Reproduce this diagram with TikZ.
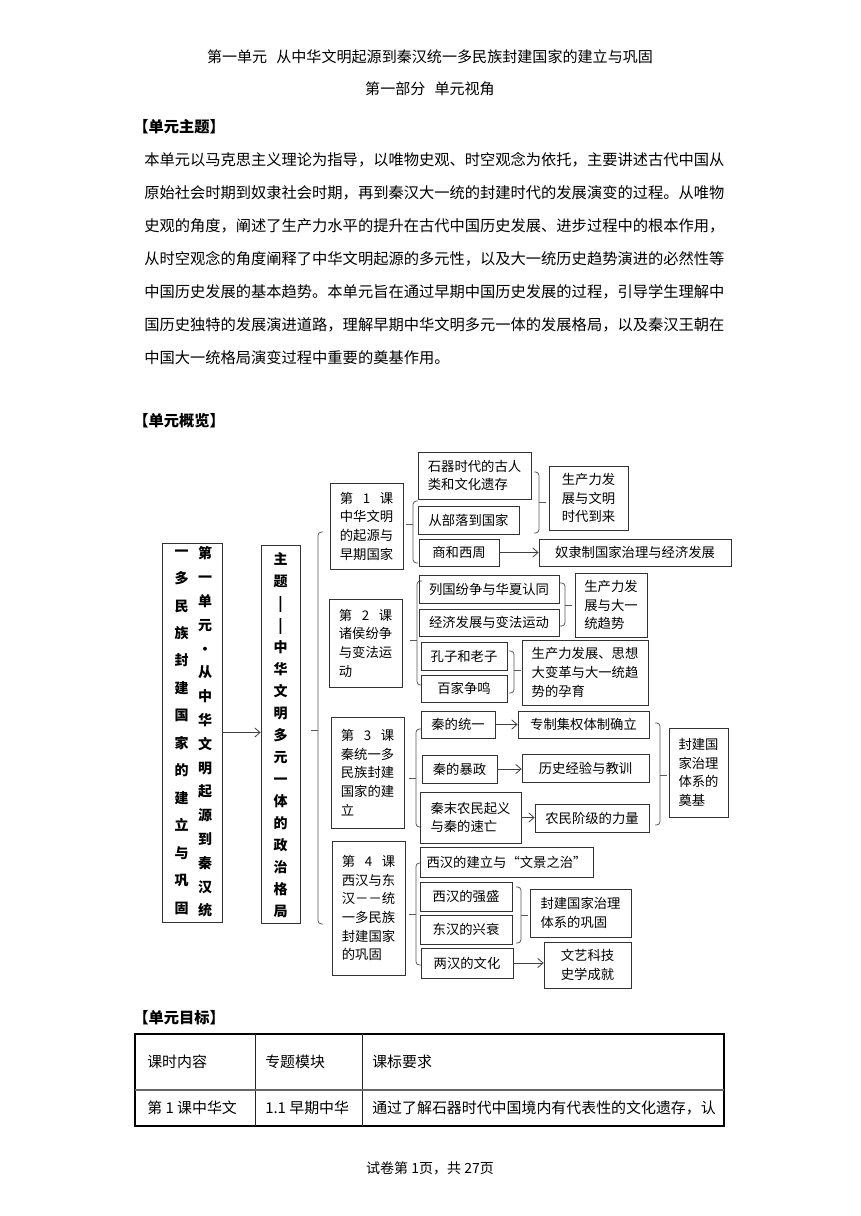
\documentclass[tikz,border=0pt]{standalone}
\usepackage{fontspec}
\setmainfont{Noto Sans CJK SC}
\usetikzlibrary{arrows.meta,fit}
\newcommand\brL[4]{\draw[brk] (#1+5,#2) -- (#1,#2) -- (#1,#3) -- (#1+5,#3); \draw[brk] (#1,#4) -- (#1-7,#4);}
\newcommand\brR[4]{\draw[brk] (#1-5,#2) -- (#1,#2) -- (#1,#3) -- (#1-5,#3); \draw[brk] (#1,#4) -- (#1+7,#4);}
\newcommand\kc[1]{\makebox[4em]{第\hfill #1\hfill 课}}
% box with separate label: name, x1,y1,x2,y2, text
\newcommand\bx[6]{\node[box, fit={(#2,#3)(#4,#5)}] (#1) {}; \node[lbl] (#1-t) at (#1.center) {#6};}
\begin{document}
\begin{tikzpicture}[x=0.75pt,y=-0.75pt,
  box/.style={draw=black!80, line width=0.6pt, inner sep=0pt},
  lbl/.style={inner sep=0pt, align=left, font=\fontsize{10}{14}\selectfont},
  brk/.style={draw=black!65, line width=0.6pt, rounded corners=2.5pt},
  arr/.style={draw=black!75, line width=0.6pt, -{Straight Barb[length=4pt,width=7pt]}},
  body/.style={inner sep=0pt, anchor=west, font=\fontsize{11.45}{14}\selectfont},
  head/.style={inner sep=0pt, anchor=west, font=\bfseries\fontsize{11.45}{14}\selectfont},
  cell/.style={inner sep=0pt, anchor=west, font=\fontsize{11.2}{14}\selectfont},
  vcol/.style={inner sep=0pt, align=center, font=\bfseries\fontsize{10.5}{#1}\selectfont}
]
\fill[white] (0,0) rectangle (860,1216);

% ---------- header text ----------
\node[inner sep=0pt, font=\fontsize{11.3}{14}\selectfont] (title) at (430,57) {第一单元\hspace{0.6em}从中华文明起源到秦汉统一多民族封建国家的建立与巩固};
\node[inner sep=0pt, font=\fontsize{11.3}{14}\selectfont] (sub) at (430,89) {第一部分\hspace{0.6em}单元视角};
\node[head] (h1) at (133,127) {【单元主题】};
\node[body] (p1) at (144,160) {本单元以马克思主义理论为指导，以唯物史观、时空观念为依托，主要讲述古代中国从};
\node[body] (p2) at (144,193) {原始社会时期到奴隶社会时期，再到秦汉大一统的封建时代的发展演变的过程。从唯物};
\node[body] (p3) at (144,226) {史观的角度，阐述了生产力水平的提升在古代中国历史发展、进步过程中的根本作用，};
\node[body] (p4) at (144,259) {从时空观念的角度阐释了中华文明起源的多元性，以及大一统历史趋势演进的必然性等};
\node[body] (p5) at (144,292) {中国历史发展的基本趋势。本单元旨在通过早期中国历史发展的过程，引导学生理解中};
\node[body] (p6) at (144,325) {国历史独特的发展演进道路，理解早期中华文明多元一体的发展格局，以及秦汉王朝在};
\node[body] (p7) at (144,358) {中国大一统格局演变过程中重要的奠基作用。};
\node[head] (h2) at (133,421) {【单元概览】};

% ---------- diagram: left columns ----------
\node[box, fit={(162,543)(222,922)}] (B1) {};
\node[vcol=20.6] (B1a) at (181.7,732) {一\\多\\民\\族\\封\\建\\国\\家\\的\\建\\立\\与\\巩\\固};
\node[vcol=17.85] (B1b) at (205,732) {第\\一\\单\\元\\·\\从\\中\\华\\文\\明\\起\\源\\到\\秦\\汉\\统};
\node[box, fit={(261,545)(300,923)}] (B2) {};
\node[vcol=16.5] (B2a) at (280.5,735) {主\\题\\|\\|\\中\\华\\文\\明\\多\\元\\一\\体\\的\\政\\治\\格\\局};
\draw[arr] (B1.east) -- (B1.east -| B2.west);
\brL{318}{532}{924}{730}

% ---------- lessons ----------
\bx{L1}{330}{483}{403}{569}{\kc{1}\\中华文明\\的起源与\\早期国家}
\bx{L2}{329}{599}{402}{687}{\kc{2}\\诸侯纷争\\与变法运\\动\hspace{3em}}
\bx{L3}{331}{717}{404}{828}{\kc{3}\\秦统一多\\民族封建\\国家的建\\立\hspace{3em}}
\bx{L4}{332}{841}{405}{975}{\kc{4}\\西汉与东\\汉－－统\\一多民族\\封建国家\\的巩固\hspace{1em}}

% ---------- lesson 1 ----------
\brL{413}{501}{563}{524}
\bx{a1}{418}{452}{531}{499}{石器时代的古人\\类和文化遗存}
\bx{a2}{418}{506}{519}{534}{从部落到国家}
\bx{a3}{419}{539}{499}{566}{商和西周}
\brR{539}{472}{533}{502}
\bx{r1}{549}{466}{628}{530}{生产力发\\展与文明\\时代到来}
\bx{r2}{539}{539}{731}{566}{奴隶制国家治理与经济发展}
\draw[arr] (a3.east) -- (a3.east -| r2.west);

% ---------- lesson 2 ----------
\brL{417}{581}{685}{640}
\bx{b1}{419}{575}{559}{603}{列国纷争与华夏认同}
\bx{b2}{419}{609}{559}{636}{经济发展与变法运动}
\bx{b3}{421}{642}{507}{670}{孔子和老子}
\bx{b4}{421}{675}{507}{702}{百家争鸣}
\brR{565}{583}{626}{605}
\bx{s1}{575}{573}{647}{637}{生产力发\\展与大一\\统趋势\hspace{1em}}
\brR{514}{651}{693}{670}
\bx{s2}{522}{640}{648}{705}{生产力发展、思想\\大变革与大一统趋\\势的孕育}

% ---------- lesson 3 ----------
\brL{416}{729}{827}{778}
\bx{c1}{421}{711}{495}{738}{秦的统一}
\bx{c2}{422}{755}{497}{783}{秦的暴政}
\bx{c3}{420}{792}{521}{843}{秦末农民起义\\与秦的速亡}
\bx{t1}{518}{711}{649}{738}{专制集权体制确立}
\bx{t2}{522}{754}{649}{782}{历史经验与教训}
\bx{t3}{535}{804}{649}{832}{农民阶级的力量}
\draw[arr] (c1.east) -- (c1.east -| t1.west);
\draw[arr] (c2.east) -- (c2.east -| t2.west);
\draw[arr] (c3.east) -- (c3.east -| t3.west);
\brR{660}{723}{825}{775}
\bx{t4}{669}{728}{728}{817}{封建国\\家治理\\体系的\\奠基\hspace{1em}}

% ---------- lesson 4 ----------
\brL{416}{863}{965}{914}
\bx{d1}{420}{847}{593}{877}{西汉的建立与“文景之治”}
\bx{d2}{420}{882}{512}{911}{西汉的强盛}
\bx{d3}{420}{915}{512}{944}{东汉的兴衰}
\bx{d4}{421}{948}{513}{978}{两汉的文化}
\brR{521}{887}{943}{915}
\bx{u1}{530}{889}{631}{937}{封建国家治理\\体系的巩固}
\bx{u2}{544}{942}{631}{988}{\makebox[4em]{文艺科技}\\\makebox[4em]{史学成就}}
\draw[arr] (d4.east) -- (d4.east -| u2.west);

% ---------- table ----------
\node[head] (h3) at (133,1018) {【单元目标】};
\draw[line width=0.9pt, black] (135,1034) -- (724,1034) -- (724,1126) -- (135,1126) -- cycle;
\draw[line width=0.7pt, black!85] (255,1034) -- (255,1126) (362,1034) -- (362,1126);
\draw[line width=1.3pt, black!60] (135,1090) -- (724,1090);
\node[cell] (c11) at (147,1062) {课时内容};
\node[cell] (c12) at (265,1062) {专题模块};
\node[cell] (c13) at (372,1062) {课标要求};
\node[cell] (c21) at (147,1108) {第 1 课中华文};
\node[cell] (c22) at (265,1108) {1.1 早期中华};
\node[cell] (c23) at (372,1108) {通过了解石器时代中国境内有代表性的文化遗存，认};

\node[inner sep=0pt, font=\fontsize{10.5}{13}\selectfont] (foot) at (430,1168) {试卷第 1页，共 27页};
\end{tikzpicture}
\end{document}
